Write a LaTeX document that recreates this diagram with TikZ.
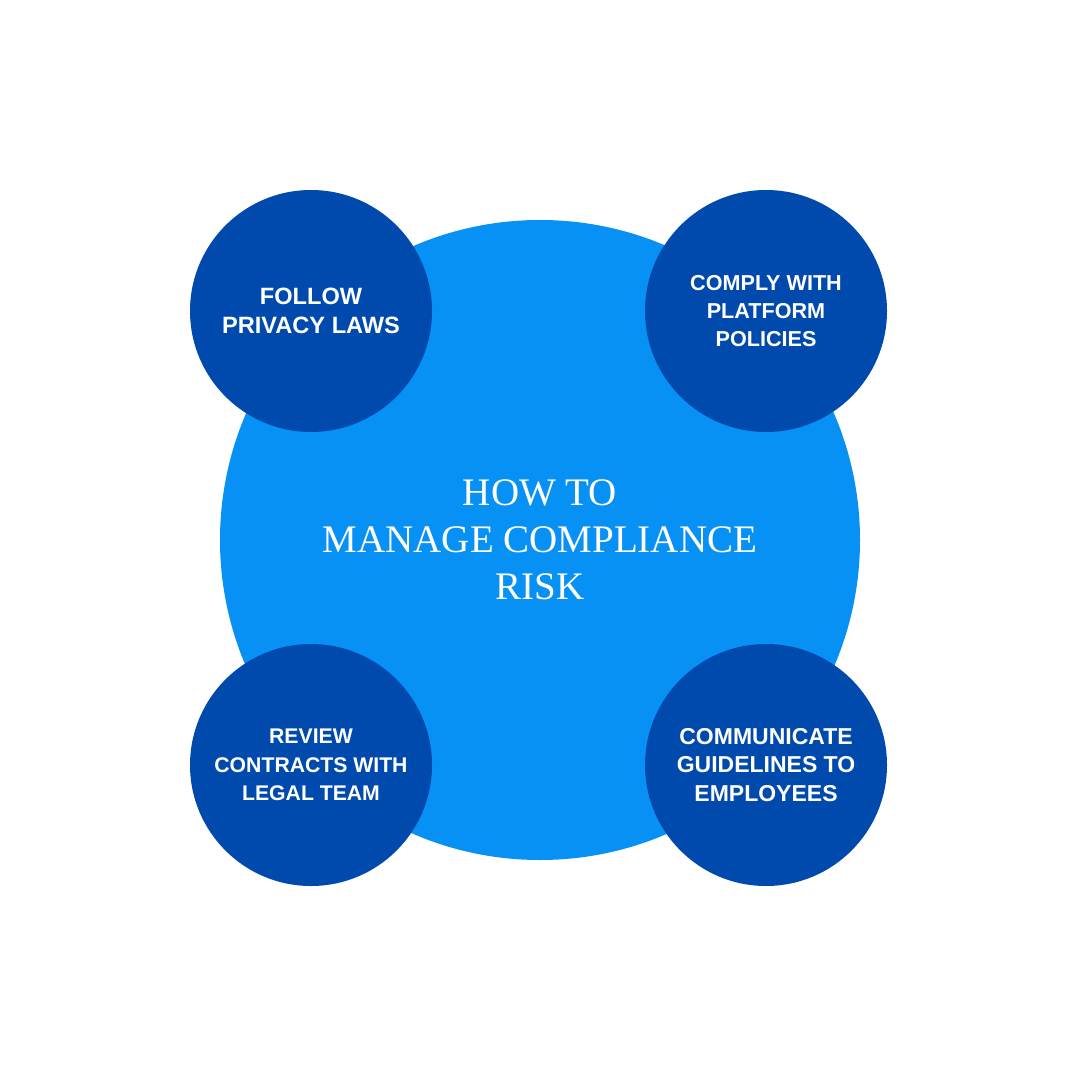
\documentclass[tikz,border=0pt]{standalone}
\usepackage{fontspec}
\setmainfont{Liberation Serif}
\newfontfamily\labelfont{Liberation Sans}
\usetikzlibrary{positioning}
\definecolor{hubblue}{HTML}{0891F5}
\definecolor{tipblue}{HTML}{004AAD}
\begin{document}
\begin{tikzpicture}[x=0.5pt, y=-0.5pt,
    hub/.style={circle, fill=hubblue, inner sep=0pt, minimum size=320pt, text=white, align=center,
        font=\fontsize{19.5}{23.5}\selectfont},
    tip/.style={circle, fill=tipblue, inner sep=0pt, minimum size=121pt, text=white, align=center,
        font=\labelfont\bfseries\fontsize{#1}{14.2}\selectfont},
    tip/.default=11]
        \fill [white] (0,0) rectangle (1080,1080);
        \useasboundingbox (0,0) rectangle (1080,1080);
        \node [hub] (hub) at (540,540) {HOW TO\\MANAGE COMPLIANCE\\RISK};
        \node [tip=11.8] (privacy) at (311,311) {FOLLOW\\PRIVACY LAWS};
        \node [tip=10.8] (platform) at (766,311) {COMPLY WITH\\PLATFORM\\POLICIES};
        \node [tip=10.6] (contracts) at (311,765) {REVIEW\\CONTRACTS WITH\\LEGAL TEAM};
        \node [tip=11.5] (guidelines) at (766,765) {COMMUNICATE\\GUIDELINES TO\\EMPLOYEES};
    \end{tikzpicture}
\end{document}
